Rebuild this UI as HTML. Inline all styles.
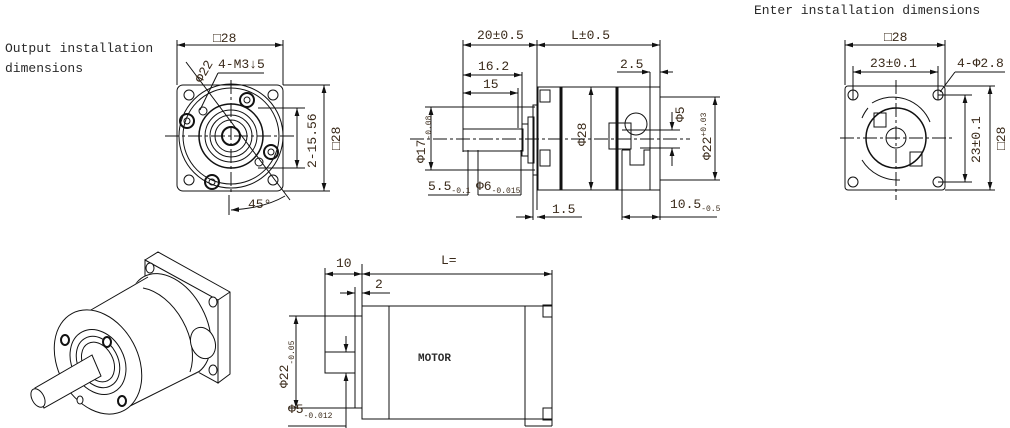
<!DOCTYPE html>
<html><head><meta charset="utf-8"><style>
html,body{margin:0;padding:0;background:#fff;}
svg{display:block;}
text{font-family:"Liberation Mono","DejaVu Sans Mono",monospace;fill:#2a2a2a;}
.d{font-family:"Liberation Mono",monospace;font-size:13px;fill:#3a2a1a;}
</style></head><body>
<svg width="1010" height="428" viewBox="0 0 1010 428" xmlns="http://www.w3.org/2000/svg">
<defs><marker id="a" viewBox="0 0 10 6" refX="10" refY="3" markerWidth="8" markerHeight="5" orient="auto-start-reverse"><path d="M0,0L10,3L0,6z" fill="#111"/></marker></defs>
<g stroke="#111" stroke-width="1" fill="none">

<!-- Top-left view -->
<text x="5" y="52" font-size="13" stroke="none">Output installation</text>
<text x="5" y="72" font-size="13" stroke="none">dimensions</text>
<line x1="177" y1="40" x2="177" y2="85"/><line x1="283" y1="40" x2="283" y2="85"/>
<line x1="177" y1="45" x2="283" y2="45" marker-start="url(#a)" marker-end="url(#a)"/>
<text class="d" x="213" y="42" stroke="none">□28</text>
<rect x="177" y="85" width="106" height="106" rx="6"/>
<circle cx="231" cy="136" r="52"/><circle cx="231" cy="136" r="48"/>
<circle cx="231" cy="136" r="32" stroke-width="1.5"/><circle cx="231" cy="136" r="26"/><circle cx="231" cy="136" r="21"/><circle cx="231" cy="136" r="16"/>
<circle cx="231" cy="136" r="9" stroke-width="2"/>
<circle cx="189" cy="95" r="5"/><circle cx="273" cy="95" r="5"/><circle cx="189" cy="180" r="5"/><circle cx="273" cy="180" r="5"/>
<circle cx="247" cy="100" r="7" stroke-width="2"/><circle cx="247" cy="100" r="3"/>
<circle cx="187" cy="121" r="7" stroke-width="2"/><circle cx="187" cy="121" r="3"/>
<circle cx="271" cy="152" r="7" stroke-width="2"/><circle cx="271" cy="152" r="3"/>
<circle cx="212" cy="182" r="7" stroke-width="2"/><circle cx="212" cy="182" r="3"/>
<circle cx="203" cy="111" r="4"/><circle cx="259" cy="162" r="4"/>
<line x1="165" y1="136" x2="295" y2="136" stroke-dasharray="14,3,3,3"/>
<line x1="231" y1="80" x2="231" y2="195" stroke-dasharray="14,3,3,3"/>
<line x1="186" y1="62" x2="290" y2="200"/>
<line x1="200" y1="110" x2="218" y2="73"/><line x1="218" y1="73" x2="264" y2="73"/>
<text class="d" x="218" y="68" stroke="none">4-M3↓5</text>
<text class="d" x="196" y="82" stroke="none" font-size="12" transform="rotate(-60 200 78)">Φ22</text>
<line x1="258" y1="108" x2="305" y2="108"/><line x1="258" y1="168" x2="305" y2="168"/>
<line x1="297" y1="108" x2="297" y2="168" marker-start="url(#a)" marker-end="url(#a)"/>
<text class="d" x="0" y="0" stroke="none" transform="translate(316 168) rotate(-90)">2-15.56</text>
<line x1="283" y1="85" x2="330" y2="85"/><line x1="283" y1="191" x2="330" y2="191"/>
<line x1="324" y1="85" x2="324" y2="191" marker-start="url(#a)" marker-end="url(#a)"/>
<text class="d" x="0" y="0" stroke="none" transform="translate(340 150) rotate(-90)">□28</text>
<line x1="229" y1="195" x2="229" y2="215"/>
<path d="M231 210 Q265 208 285 196" marker-start="url(#a)"/>
<text class="d" x="248" y="208" stroke="none">45°</text>

<!-- Middle view -->
<line x1="463" y1="40" x2="463" y2="152"/><line x1="537" y1="40" x2="537" y2="210"/><line x1="660" y1="40" x2="660" y2="88"/>
<line x1="463" y1="45" x2="537" y2="45" marker-start="url(#a)" marker-end="url(#a)"/>
<line x1="537" y1="45" x2="660" y2="45" marker-start="url(#a)" marker-end="url(#a)"/>
<text class="d" x="477" y="39" stroke="none">20±0.5</text>
<text class="d" x="571" y="39" stroke="none">L±0.5</text>
<line x1="463" y1="75" x2="522" y2="75" marker-start="url(#a)" marker-end="url(#a)"/><line x1="522" y1="72" x2="522" y2="128"/>
<text class="d" x="478" y="70" stroke="none">16.2</text>
<line x1="463" y1="93" x2="518" y2="93" marker-start="url(#a)" marker-end="url(#a)"/><line x1="518" y1="88" x2="518" y2="128"/>
<text class="d" x="483" y="88" stroke="none">15</text>
<rect x="463" y="129" width="60" height="22"/>
<rect x="522" y="124" width="6" height="32"/><rect x="528" y="117" width="6" height="46"/>
<rect x="533" y="105" width="5" height="70"/>
<rect x="538" y="87" width="122" height="103"/>
<rect x="540" y="90" width="10" height="12"/><rect x="540" y="150" width="10" height="16"/>
<line x1="561" y1="87" x2="561" y2="190" stroke-width="3"/><line x1="617" y1="87" x2="617" y2="190" stroke-width="3"/>
<line x1="591" y1="87" x2="591" y2="190" marker-start="url(#a)" marker-end="url(#a)"/>
<text class="d" x="0" y="0" stroke="none" transform="translate(586 146) rotate(-90)">Φ28</text>
<rect x="609" y="123" width="22" height="26"/><circle cx="636" cy="124" r="11"/>
<path d="M622 130 H650 V150 H644 V165 H630 V150 H622"/>
<rect x="650" y="87" width="10" height="103"/>
<line x1="660" y1="97" x2="720" y2="97"/><line x1="660" y1="180" x2="720" y2="180"/>
<line x1="715" y1="97" x2="715" y2="180" marker-start="url(#a)" marker-end="url(#a)"/>
<text class="d" x="0" y="0" stroke="none" transform="translate(711 160) rotate(-90)">Φ22<tspan font-size="8" dy="-5">+0.03</tspan></text>
<line x1="640" y1="130" x2="680" y2="130"/><line x1="640" y1="148" x2="680" y2="148"/>
<line x1="672" y1="112" x2="672" y2="130" marker-end="url(#a)"/><line x1="672" y1="166" x2="672" y2="148" marker-end="url(#a)"/>
<text class="d" x="0" y="0" stroke="none" transform="translate(684 122) rotate(-90)">Φ5</text>
<line x1="410" y1="139" x2="690" y2="139" stroke-dasharray="14,3,3,3"/>
<line x1="425" y1="107" x2="535" y2="107"/><line x1="425" y1="170" x2="535" y2="170"/>
<line x1="431" y1="107" x2="431" y2="170" marker-start="url(#a)" marker-end="url(#a)"/>
<text class="d" x="0" y="0" stroke="none" transform="translate(425 163) rotate(-90)">Φ17<tspan font-size="8" dy="6">-0.08</tspan></text>
<line x1="468" y1="150" x2="468" y2="195"/><line x1="478" y1="150" x2="478" y2="195"/><line x1="521" y1="150" x2="521" y2="195"/>
<text class="d" x="428" y="190" stroke="none">5.5<tspan font-size="8" dy="3">-0.1</tspan></text>
<line x1="428" y1="195" x2="468" y2="195"/>
<text class="d" x="476" y="190" stroke="none">Φ6<tspan font-size="8" dy="3">-0.015</tspan></text>
<line x1="478" y1="195" x2="521" y2="195"/>
<line x1="533" y1="175" x2="533" y2="220"/>
<line x1="516" y1="217" x2="533" y2="217" marker-end="url(#a)"/><line x1="582" y1="217" x2="537" y2="217" marker-end="url(#a)"/>
<text class="d" x="552" y="213" stroke="none">1.5</text>
<line x1="622" y1="150" x2="622" y2="220"/><line x1="660" y1="190" x2="660" y2="220"/>
<line x1="622" y1="217" x2="660" y2="217" marker-start="url(#a)" marker-end="url(#a)"/><line x1="660" y1="217" x2="717" y2="217"/>
<text class="d" x="670" y="208" stroke="none">10.5<tspan font-size="8" dy="3">-0.5</tspan></text>
<line x1="617" y1="72" x2="650" y2="72"/><line x1="650" y1="72" x2="650" y2="87"/>
<line x1="640" y1="72" x2="650" y2="72" marker-end="url(#a)"/><line x1="673" y1="72" x2="660" y2="72" marker-end="url(#a)"/>
<text class="d" x="620" y="68" stroke="none">2.5</text>

<!-- Right view -->
<text x="754" y="14" font-size="13" stroke="none">Enter installation dimensions</text>
<line x1="845" y1="40" x2="845" y2="85"/><line x1="945" y1="40" x2="945" y2="85"/>
<line x1="845" y1="45" x2="945" y2="45" marker-start="url(#a)" marker-end="url(#a)"/>
<text class="d" x="884" y="41" stroke="none">□28</text>
<line x1="853" y1="66" x2="853" y2="100"/><line x1="938" y1="66" x2="938" y2="100"/>
<line x1="853" y1="72" x2="938" y2="72" marker-start="url(#a)" marker-end="url(#a)"/>
<text class="d" x="870" y="67" stroke="none">23±0.1</text>
<text class="d" x="957" y="67" stroke="none">4-Φ2.8</text>
<line x1="940" y1="92" x2="955" y2="72"/><line x1="955" y1="72" x2="1005" y2="72"/>
<rect x="845" y="86" width="100" height="104" rx="3"/>
<circle cx="853" cy="95" r="5"/><circle cx="938" cy="95" r="5"/><circle cx="853" cy="182" r="5"/><circle cx="938" cy="182" r="5"/>
<circle cx="896" cy="138" r="30" stroke-width="1.5"/>
<path d="M872 103 A40 40 0 0 1 930 122"/><path d="M862 160 A42 42 0 0 0 900 180"/><path d="M862 118 A40 40 0 0 1 868 108"/>
<circle cx="896" cy="138" r="10"/>
<rect x="874" y="113" width="12" height="14"/><rect x="910" y="152" width="12" height="14"/>
<line x1="840" y1="138" x2="955" y2="138" stroke-dasharray="14,3,3,3"/>
<line x1="896" y1="80" x2="896" y2="200" stroke-dasharray="14,3,3,3"/>
<line x1="938" y1="95" x2="972" y2="95"/><line x1="938" y1="182" x2="972" y2="182"/>
<line x1="965" y1="95" x2="965" y2="182" marker-start="url(#a)" marker-end="url(#a)"/>
<text class="d" x="0" y="0" stroke="none" transform="translate(980 163) rotate(-90)">23±0.1</text>
<line x1="945" y1="86" x2="995" y2="86"/><line x1="945" y1="190" x2="995" y2="190"/>
<line x1="990" y1="86" x2="990" y2="190" marker-start="url(#a)" marker-end="url(#a)"/>
<text class="d" x="0" y="0" stroke="none" transform="translate(1005 150) rotate(-90)">□28</text>

<!-- 3D view -->
<g fill="#fff">
<path d="M145 260 L158 252 L230 292 L230 374 L218 383 Z"/>
<path d="M145 260 L218 300 L218 383 L145 343 Z"/>
<line x1="218" y1="300" x2="230" y2="292"/>
<ellipse cx="150" cy="268" rx="4" ry="5"/><ellipse cx="213" cy="302" rx="4" ry="5"/><ellipse cx="213" cy="370" rx="4" ry="5"/>
<ellipse cx="170" cy="325" rx="36" ry="55" transform="rotate(-28 170 325)"/>
<path d="M84 314 L148 276 L200 372 L128 408 Z" stroke="none"/>
<line x1="84" y1="314" x2="148" y2="277"/><line x1="128" y1="407" x2="200" y2="371"/>
<path d="M143 288 A36 55 -28 0 1 190 372" fill="none"/>
<ellipse cx="203" cy="343" rx="12" ry="16" transform="rotate(-20 203 343)"/>
<ellipse cx="98" cy="362" rx="40" ry="55" transform="rotate(-28 98 362)"/>
<ellipse cx="98" cy="362" rx="26" ry="34" transform="rotate(-28 98 362)"/>
<ellipse cx="98" cy="362" rx="20" ry="27" transform="rotate(-28 98 362)"/>
<ellipse cx="98" cy="362" rx="15" ry="21" transform="rotate(-28 98 362)"/>
<ellipse cx="65" cy="340" rx="4" ry="5" stroke-width="2"/><ellipse cx="107" cy="342" rx="4" ry="5" stroke-width="2"/>
<ellipse cx="122" cy="401" rx="4" ry="5" stroke-width="2"/><ellipse cx="80" cy="400" rx="3" ry="4"/>
<path d="M92 355 L35 388 L44 408 L101 376 Z"/>
<ellipse cx="38" cy="398" rx="6" ry="10" transform="rotate(-28 38 398)"/>
</g>

<!-- Bottom right motor drawing -->
<line x1="325" y1="268" x2="325" y2="373"/><line x1="362" y1="264" x2="362" y2="306"/>
<line x1="325" y1="274" x2="362" y2="274" marker-start="url(#a)" marker-end="url(#a)"/>
<line x1="362" y1="274" x2="552" y2="274" marker-start="url(#a)" marker-end="url(#a)"/>
<line x1="552" y1="270" x2="552" y2="306"/>
<text class="d" x="336" y="267" stroke="none">10</text>
<text class="d" x="441" y="264" stroke="none">L=</text>
<line x1="355" y1="287" x2="355" y2="408"/>
<line x1="340" y1="293" x2="355" y2="293" marker-end="url(#a)"/><line x1="390" y1="293" x2="362" y2="293" marker-end="url(#a)"/>
<text class="d" x="375" y="288" stroke="none">2</text>
<rect x="362" y="306" width="190" height="113"/>
<line x1="389" y1="306" x2="389" y2="419"/><line x1="525" y1="306" x2="525" y2="426"/><line x1="525" y1="426" x2="552" y2="426"/><line x1="552" y1="419" x2="552" y2="426"/>
<rect x="543" y="305" width="9" height="12"/><rect x="543" y="408" width="9" height="12"/>
<text x="418" y="361" font-size="11" stroke="none" font-weight="bold">MOTOR</text>
<line x1="289" y1="316" x2="362" y2="316"/><line x1="289" y1="408" x2="362" y2="408"/>
<line x1="296" y1="316" x2="296" y2="408" marker-start="url(#a)" marker-end="url(#a)"/>
<text class="d" x="0" y="0" stroke="none" transform="translate(288 388) rotate(-90)">Φ22<tspan font-size="8" dy="6">-0.05</tspan></text>
<rect x="325" y="352" width="30" height="21"/>
<line x1="346" y1="336" x2="346" y2="352" marker-end="url(#a)"/><line x1="346" y1="438" x2="346" y2="373" marker-end="url(#a)"/>
<text class="d" x="288" y="413" stroke="none">Φ5<tspan font-size="8" dy="5">-0.012</tspan></text>
<line x1="288" y1="426" x2="346" y2="426"/>
</g>
</svg>
</body></html>
